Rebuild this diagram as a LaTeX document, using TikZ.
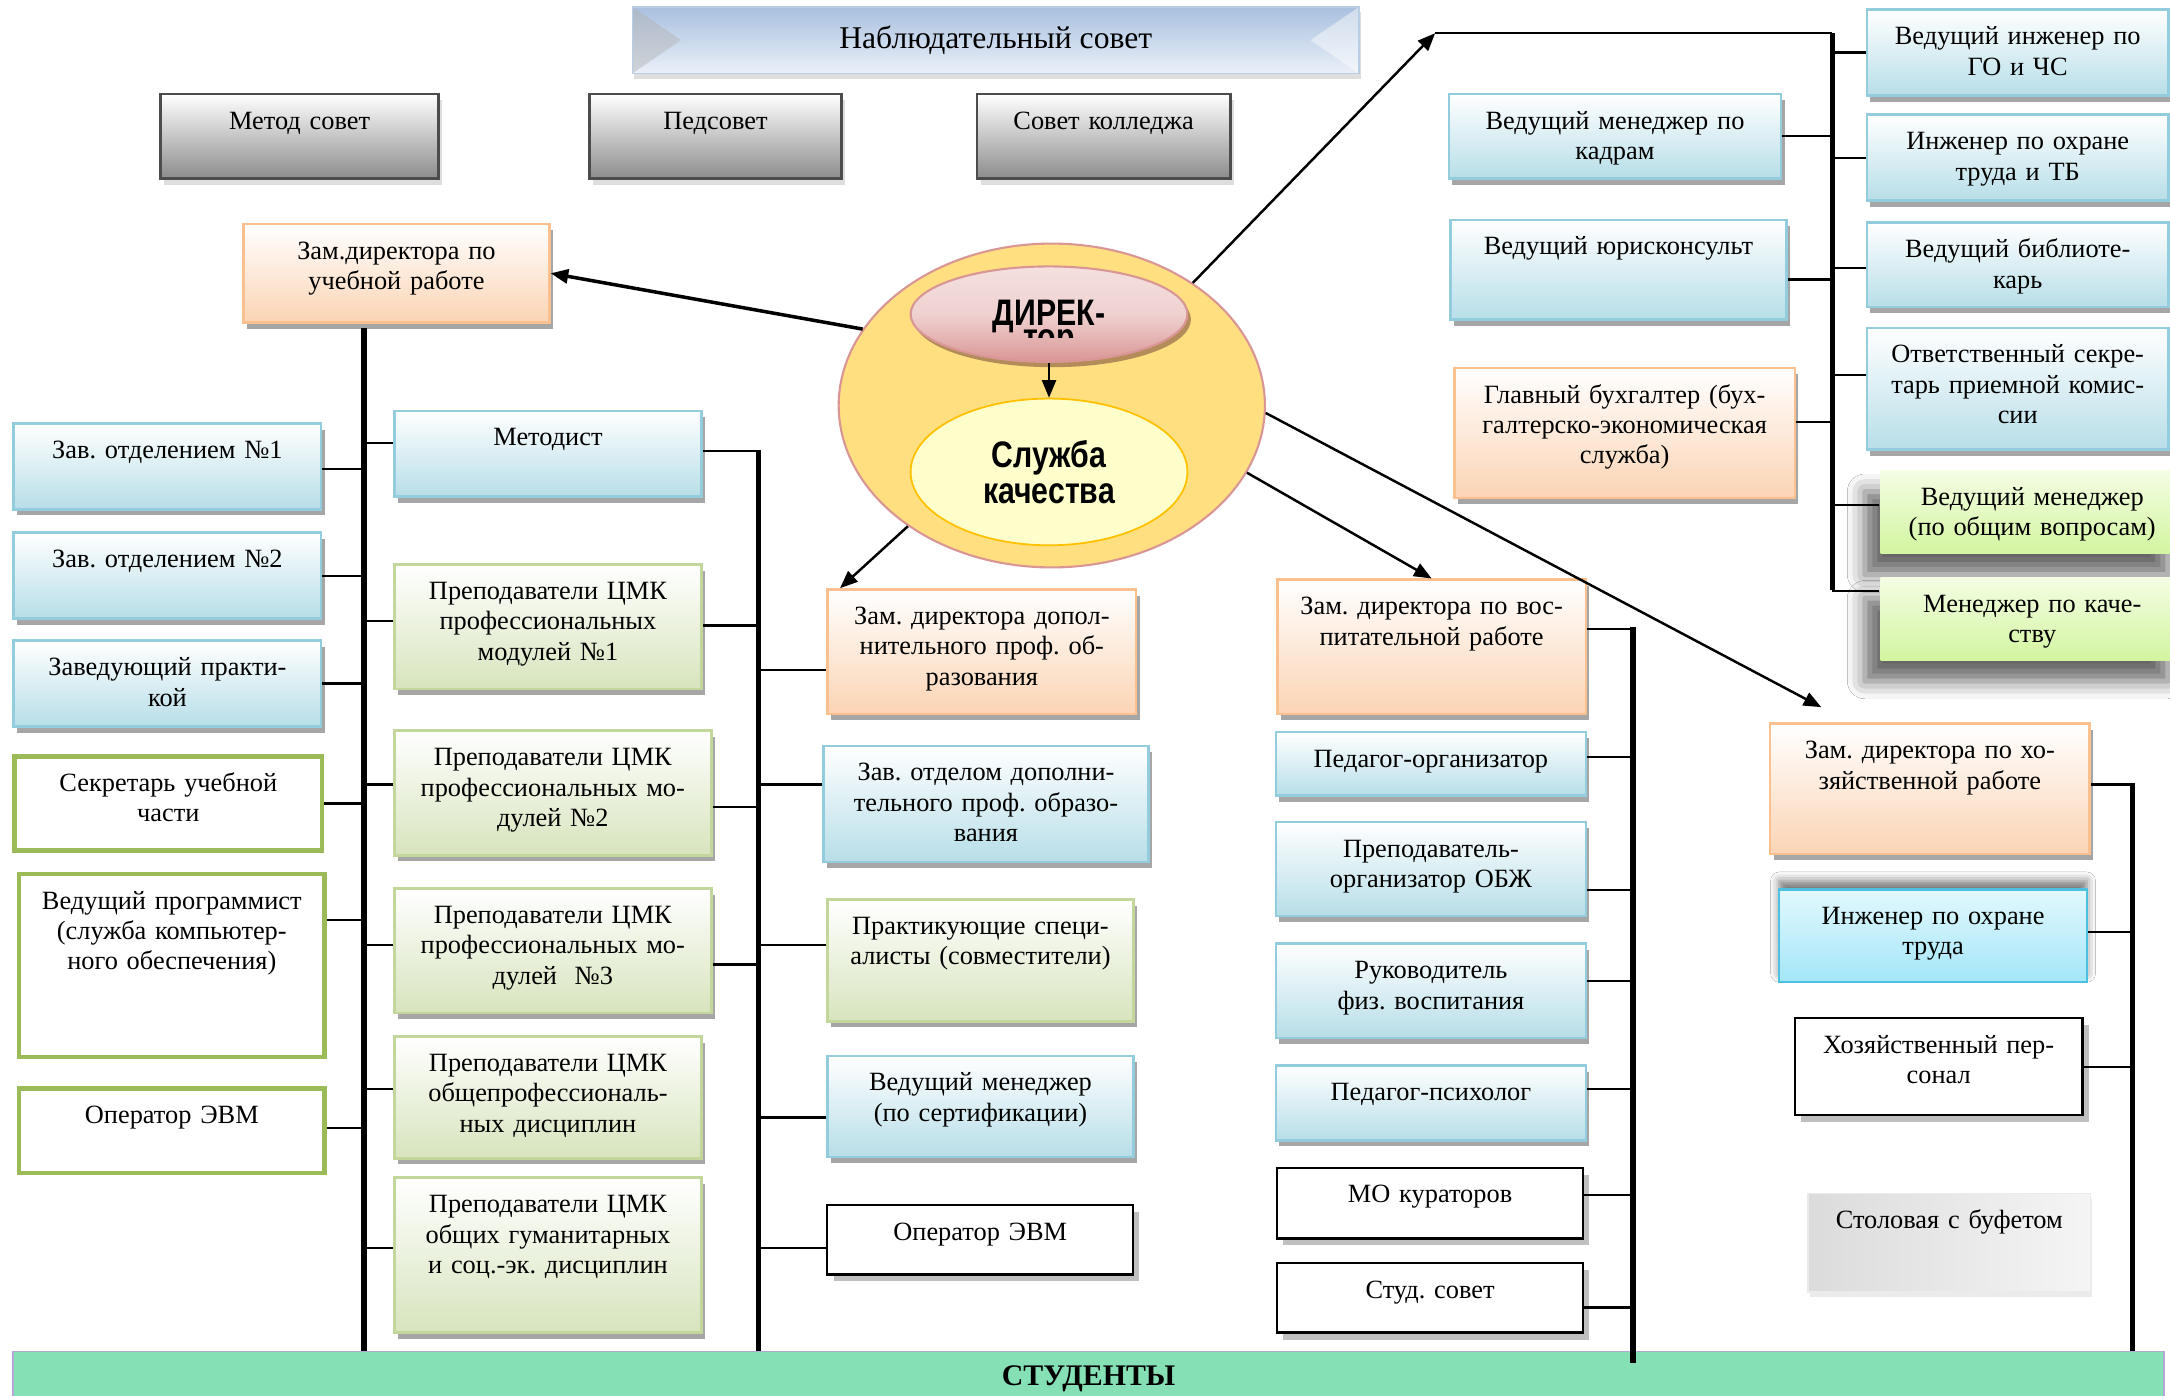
\documentclass[tikz,border=0pt]{standalone}
\usepackage{fontspec}
\setmainfont{Liberation Serif}
\newfontfamily\narrowfont[FakeStretch=0.82]{Liberation Sans}
\usetikzlibrary{shapes.geometric}
\usetikzlibrary{shadows,shadows.blur}
\usetikzlibrary{arrows.meta}

\definecolor{blueline}{HTML}{93CDDD}
\definecolor{bluefill}{HTML}{B7DEE8}
\definecolor{greenline}{HTML}{C3D69B}
\definecolor{greenfill}{HTML}{D7E4BD}
\definecolor{orangeline}{HTML}{FAC090}
\definecolor{orangefill}{HTML}{FBD4B4}
\definecolor{secline}{HTML}{9BBB59}
\definecolor{limetop}{HTML}{F4FDE4}
\definecolor{limefill}{HTML}{D3F5A0}
\definecolor{cyantop}{HTML}{E2F8FE}
\definecolor{cyanfill}{HTML}{A3E6F8}
\definecolor{cyanline}{HTML}{4BC0E0}
\definecolor{ovalfill}{HTML}{FFDF80}
\definecolor{ovalline}{HTML}{D99694}
\definecolor{dirlight}{HTML}{F4E0DF}
\definecolor{dirdark}{HTML}{D99694}
\definecolor{dirshadow}{HTML}{A07850}
\definecolor{slfill}{HTML}{FFFFCC}
\definecolor{slline}{HTML}{FFC000}
\definecolor{studfill}{HTML}{86E0B6}
\definecolor{studline}{HTML}{B4A7D6}
\definecolor{sovtop}{HTML}{A9C0DF}
\definecolor{sovbot}{HTML}{EAF0F8}
\definecolor{sovline}{HTML}{B9CDE5}

\newdimen\pxu
\pxu=0.02768cm
\newcommand\tightlines{\lineskiplimit=-20pt\relax}

\tikzstyle{box} = [draw, line width=1.5pt, align=center, inner xsep=0.1cm, inner ysep=0.1cm, font=\fontsize{15}{17.3}\selectfont]
\tikzstyle{soft shadow} = [drop shadow={shadow xshift=2pt, shadow yshift=-3.5pt, fill=black, opacity=0.35}]
\tikzstyle{blue box} = [box, soft shadow, draw=blueline, top color=white, bottom color=bluefill]
\tikzstyle{green box} = [box, soft shadow, draw=greenline, top color=white, bottom color=greenfill]
\tikzstyle{orange box} = [box, soft shadow, draw=orangeline, top color=white, bottom color=orangefill]
\tikzstyle{gray box} = [box, drop shadow={shadow xshift=2pt, shadow yshift=-3.5pt, fill=black!25}, draw=black!70, top color=white, bottom color=black!45]
\tikzstyle{plain box} = [box, line width=1.3pt, draw=black, fill=white, drop shadow={shadow xshift=3.5pt, shadow yshift=-4pt, fill=black!50}]
\tikzstyle{sec box} = [box, line width=2.6pt, draw=secline, fill=white]
\tikzstyle{lime box} = [box, draw=none, top color=limetop, bottom color=limefill, blur shadow={shadow xshift=-9pt, shadow yshift=-12pt, shadow blur radius=10pt, shadow opacity=60}]
\tikzstyle{cyan box} = [box, draw=cyanline, line width=1.2pt, top color=cyantop, bottom color=cyanfill, blur shadow={shadow xshift=0pt, shadow yshift=5pt, shadow blur radius=5pt, shadow opacity=55}]
\tikzstyle{bevel box} = [box, draw=black!8, line width=0.8pt, left color=black!14, middle color=white, right color=white!96!black, drop shadow={shadow xshift=1pt, shadow yshift=-3pt, fill=black!15}]
\tikzstyle{council} = [draw=sovline, line width=1pt, top color=sovtop, bottom color=sovbot, minimum width=14.53cm, minimum height=1.33cm, font=\fontsize{18}{20}\selectfont, drop shadow={shadow xshift=1pt, shadow yshift=-3pt, fill=black!25},
  path picture={
    \fill[black!30, opacity=0.45] (path picture bounding box.north west) -- ([xshift=0.97cm]path picture bounding box.west) -- (path picture bounding box.south west) -- cycle;
    \fill[white, opacity=0.45] (path picture bounding box.north east) -- ([xshift=-0.97cm]path picture bounding box.east) -- (path picture bounding box.south east) -- cycle;}]
\tikzstyle{oval} = [ellipse, draw=ovalline, line width=1.2pt, fill=ovalfill, minimum width=8.525cm, minimum height=6.477cm, inner sep=0pt]
\tikzstyle{director} = [ellipse, draw=dirdark, line width=1.2pt, top color=dirlight, bottom color=dirdark, middle color=dirlight!80!dirdark, minimum width=5.536cm, minimum height=1.91cm, inner sep=0pt, drop shadow={shadow xshift=2pt, shadow yshift=-3pt, fill=dirshadow, opacity=0.8}]
\tikzstyle{dir text} = [align=center, inner sep=0pt, font=\narrowfont\bfseries\fontsize{21}{14}\selectfont\tightlines]
\tikzstyle{quality} = [ellipse, draw=slline, line width=1pt, fill=slfill, minimum width=5.536cm, minimum height=2.934cm, inner sep=0pt, align=center, font=\narrowfont\bfseries\fontsize{21}{20.4}\selectfont]
\tikzstyle{students} = [draw=studline, line width=1pt, fill=studfill, minimum width=43.01cm, minimum height=1.08cm, font=\bfseries\fontsize{17}{20}\selectfont]
\tikzstyle{trunk} = [line width=3pt]
\tikzstyle{stub} = [line width=1.3pt]
\tikzstyle{arrow} = [-{Triangle[length=10pt, width=8pt]}, line width=1.4pt]

% box by its corners: name, style, x1, y1, x2, y2, text
\newcommand\orgbox[7]{%
  \pgfmathsetmacro\bxw{(#5-#3)*0.02768}%
  \pgfmathsetmacro\bxh{(#6-#4)*0.02768}%
  \pgfmathsetmacro\bxt{\bxw-0.2}%
  \pgfmathsetmacro\bxd{\bxh-0.8}%
  \node[#2, anchor=north west, minimum width=\bxw cm, text width=\bxt cm, text height=0.6cm, text depth=\bxd cm] (#1) at (#3,#4) {#7};%
}

\begin{document}
\frenchspacing
\begin{tikzpicture}[x=0.02768cm, y=-0.02768cm]
\useasboundingbox (0,0) rectangle (1568,1008.7);
\fill[white] (0,0) rectangle (1568,1008.7);

% councils
\node[council] (nsov) at (719.5,29) {Наблюдательный совет};
\orgbox{msov}{gray box}{115}{67}{316}{128}{Метод совет}
\orgbox{psov}{gray box}{425}{67}{607}{128}{Педсовет}
\orgbox{ksov}{gray box}{705}{67}{888}{128}{Совет колледжа}

% director and quality service
\node[oval] (oval) at (760,293) {};
\node[director] (dir) at (758,227) {};
\begin{scope}
  \clip (640,190) rectangle (880,243.6);
  \node[dir text, anchor=base] (dirt) at (758,252.7) {ДИРЕК-\\тор};
\end{scope}
\node[quality] (sl) at (758,341) {Служба\\качества};

% deputies
\orgbox{zuch}{orange box}{175}{161}{396}{232}{Зам.директора по\\учебной работе}
\orgbox{zdop}{orange box}{597}{425}{820}{515}{Зам. директора допол-\\нительного проф. об-\\разования}
\orgbox{zvos}{orange box}{922}{418}{1145}{515}{Зам. директора по вос-\\питательной работе}
\orgbox{zhoz}{orange box}{1278}{522}{1509}{616}{Зам. директора по хо-\\зяйственной работе}
\orgbox{buh}{orange box}{1050}{265}{1296}{359}{Главный бухгалтер (бух-\\галтерско-экономическая\\служба)}

% left column
\orgbox{zo1}{blue box}{9}{305}{231}{367}{Зав. отделением №1}
\orgbox{zo2}{blue box}{9}{384}{231}{446}{Зав. отделением №2}
\orgbox{zpr}{blue box}{9}{462}{231}{524}{Заведующий практи-\\кой}
\orgbox{sek}{sec box}{9}{545}{231}{613}{Секретарь учебной\\части}
\orgbox{prog}{sec box}{12}{630}{233}{762}{Ведущий программист\\(служба компьютер-\\ного обеспечения)}
\orgbox{opl}{sec box}{12}{785}{233}{846}{Оператор ЭВМ}

% teachers
\orgbox{met}{blue box}{284}{296}{506}{358}{Методист}
\orgbox{cmk1}{green box}{284}{407}{506}{497}{Преподаватели ЦМК\\профессиональных\\модулей №1}
\orgbox{cmk2}{green box}{284}{527}{513}{617}{Преподаватели ЦМК\\профессиональных мо-\\дулей №2}
\orgbox{cmk3}{green box}{284}{641}{513}{731}{Преподаватели ЦМК\\профессиональных мо-\\дулей~~№3}
\orgbox{cmko}{green box}{284}{748}{506}{836}{Преподаватели ЦМК\\общепрофессиональ-\\ных дисциплин}
\orgbox{cmkg}{green box}{284}{850}{506}{962}{Преподаватели ЦМК\\общих гуманитарных\\и соц.-эк. дисциплин}

% additional education
\orgbox{zotd}{blue box}{594}{538}{829}{622}{Зав. отделом дополни-\\тельного проф. образо-\\вания}
\orgbox{prak}{green box}{597}{649}{818}{737}{Практикующие специ-\\алисты (совместители)}
\orgbox{vmser}{blue box}{597}{762}{818}{835}{Ведущий менеджер\\(по сертификации)}
\orgbox{opm}{plain box}{597}{870}{818}{920}{Оператор ЭВМ}

% education work
\orgbox{porg}{blue box}{921}{528}{1145}{574}{Педагог-организатор}
\orgbox{obzh}{blue box}{921}{593}{1145}{661}{Преподаватель-\\организатор ОБЖ}
\orgbox{fiz}{blue box}{921}{681}{1145}{749}{Руководитель\\физ. воспитания}
\orgbox{psih}{blue box}{921}{769}{1145}{823}{Педагог-психолог}
\orgbox{mo}{plain box}{922}{843}{1143}{894}{МО кураторов}
\orgbox{stud}{plain box}{922}{912}{1143}{962}{Студ. совет}

% household
\orgbox{ohr}{cyan box}{1285}{642}{1507}{709}{Инженер по охране\\труда}
\orgbox{hoz}{plain box}{1296}{735}{1504}{805}{Хозяйственный пер-\\сонал}
\orgbox{stol}{bevel box}{1306}{862}{1510}{933}{Столовая с буфетом}

% director's staff
\orgbox{kadr}{blue box}{1046}{67}{1286}{128}{Ведущий менеджер по\\кадрам}
\orgbox{yur}{blue box}{1047}{158}{1290}{230}{Ведущий юрисконсульт}
\orgbox{goch}{blue box}{1348}{6}{1566}{68}{Ведущий инженер по\\ГО и ЧС}
\orgbox{ohtb}{blue box}{1348}{82}{1566}{144}{Инженер по охране\\труда и ТБ}
\orgbox{bibl}{blue box}{1348}{160}{1566}{221}{Ведущий библиоте-\\карь}
\orgbox{otv}{blue box}{1348}{236}{1566}{324}{Ответственный секре-\\тарь приемной комис-\\сии}
\orgbox{vmob}{lime box}{1358}{339}{1577}{399}{Ведущий менеджер\\(по общим вопросам)}
\orgbox{mkach}{lime box}{1358}{416}{1577}{476}{Менеджер по каче-\\ству}

\node[students, anchor=north west] (stu) at (9,976) {СТУДЕНТЫ};

% trunks
\coordinate (ltA) at (263,237);  \coordinate (ltB) at (263,976);
\coordinate (mtA) at (548,325);  \coordinate (mtB) at (548,976);
\coordinate (vtA) at (1180,453); \coordinate (vtB) at (1180,985);
\coordinate (htA) at (1541,566); \coordinate (htB) at (1541,976);
\coordinate (rtA) at (1324,24);  \coordinate (rtB) at (1324,426);
\coordinate (rarr) at (1037,24);
\draw[trunk] (ltA) -- (ltB);
\draw[trunk] (mtA) -- (mtB);
\draw[trunk] (vtA) -- (vtB);
\draw[trunk] (htA) -- (htB);
\draw[trunk] (rtA) -- (rtB);

% stubs: box / shift of the stub from the box middle
\foreach \n/\dy in {zo1/-2, zo2/0, zpr/0, sek/0, prog/33, opl/2} {
  \path ([yshift=\dy*\pxu]\n.east) coordinate (s);
  \draw[stub] (s) -- (s -| ltA);
}
\foreach \n/\dy in {met/8, cmk1/4, cmk2/6, cmk3/4, cmko/6, cmkg/5} {
  \path ([yshift=\dy*\pxu]\n.west) coordinate (s);
  \draw[stub] (s) -- (s -| ltA);
}
\foreach \n/\dy in {met/2, cmk1/1, cmk2/-10, cmk3/-10} {
  \path ([yshift=\dy*\pxu]\n.east) coordinate (s);
  \draw[stub] (s) -- (s -| mtA);
}
\foreach \n/\dy in {zdop/-13, zotd/14, prak/11, vmser/-8, opm/-6} {
  \path ([yshift=\dy*\pxu]\n.west) coordinate (s);
  \draw[stub] (s) -- (s -| mtA);
}
\foreach \n/\dy in {zvos/13, porg/5, obzh/-15, fiz/7, psih/10, mo/6, stud/-7} {
  \path ([yshift=\dy*\pxu]\n.east) coordinate (s);
  \draw[stub] (s) -- (s -| vtA);
}
\foreach \n/\dy in {zhoz/3, ohr/3, hoz/0} {
  \path ([yshift=\dy*\pxu]\n.east) coordinate (s);
  \draw[stub] (s) -- (s -| htA);
}
\foreach \n/\dy in {kadr/0, yur/-7, buh/8} {
  \path ([yshift=\dy*\pxu]\n.east) coordinate (s);
  \draw[stub] (s) -- (s -| rtA);
}
\foreach \n/\dy in {goch/0, ohtb/0, bibl/-2, otv/10, vmob/5, mkach/20} {
  \path ([yshift=\dy*\pxu]\n.west) coordinate (s);
  \draw[stub] (s) -- (s -| rtA);
}

% arrows from the director
\draw[arrow, line width=2pt] (oval.158) -- (zuch.east);
\draw[arrow] (oval.41) -- (rarr);
\draw[stub] (rarr) -- (rtA);
\draw[arrow] (oval.220) -- ([xshift=10*\pxu]zdop.north west);
\draw[arrow] (oval.-19) -- (zvos.north);
\draw[arrow] (oval.-2) -- ([xshift=38*\pxu, yshift=11*\pxu]zhoz.north west);
\draw[arrow, line width=1.2pt] (dir.south) -- (sl.north);
\end{tikzpicture}
\end{document}
